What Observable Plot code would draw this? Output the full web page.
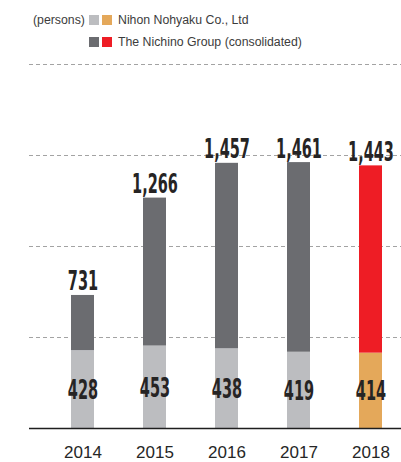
<!DOCTYPE html>
<html><head><meta charset="utf-8">
<script src="https://cdn.jsdelivr.net/npm/d3@7"></script>
<script src="https://cdn.jsdelivr.net/npm/@observablehq/plot@0.6"></script>
<style>
body{margin:0;background:#fff;}
#wrap{position:relative;width:401px;height:462px;overflow:hidden;font-family:"Liberation Sans",Arial,sans-serif;color:#3c3c3c;}
#legend{position:relative;height:56px;font-size:12.3px;line-height:14px;}
#legend .t{position:absolute;white-space:nowrap;}
#legend .sw{position:absolute;width:10px;height:10px;}
#chart svg{display:block;}
</style></head><body>
<div id="wrap"><div id="legend"></div><div id="chart"></div></div>
<script>
const years = ["2014", "2015", "2016", "2017", "2018"];
const nihon = [428, 453, 438, 419, 414];
const group = [731, 1266, 1457, 1461, 1443];
const gridValues = [500, 1000, 1500, 2000];
const unitLabel = "(persons)";
const legendLabels = ["Nihon Nohyaku Co., Ltd", "The Nichino Group (consolidated)"];
const colors = {nihon: "#bcbdc0", group: "#6b6c70", nihonLatest: "#e4a85a", groupLatest: "#ee1d25"};

// legend
const legend = document.getElementById("legend");
function add(cls, left, top, text, bg) {
  const el = document.createElement("div");
  el.className = cls;
  el.style.left = left + "px";
  el.style.top = top + "px";
  if (text) el.textContent = text;
  if (bg) el.style.background = bg;
  legend.appendChild(el);
}
add("t", 33, 12.5, unitLabel);
add("sw", 89, 14.5, null, colors.nihon);
add("sw", 102.3, 14.5, null, colors.nihonLatest);
add("t", 118, 12.5, legendLabels[0]);
add("sw", 89, 36.5, null, colors.group);
add("sw", 102.3, 36.5, null, colors.groupLatest);
add("t", 118, 34.5, legendLabels[1]);

const data = years.map((year, i) => ({year, nihon: nihon[i], group: group[i], latest: i === years.length - 1}));
const fmt = d3.format(",");
const valueFont = {fontFamily: "'DejaVu Sans Condensed', 'DejaVu Sans', sans-serif", fontWeight: "bold", fontSize: 26, fill: "#262424"};

const plot = Plot.plot({
  width: 401, height: 406,
  marginTop: 8, marginBottom: 34, marginLeft: 29, marginRight: 0,
  x: {domain: years, range: [22, 431], padding: 0.68, label: null, tickSize: 0, tickPadding: 17},
  y: {domain: [0, 2000], axis: null},
  color: {type: "identity"},
  style: {fontFamily: "'Liberation Sans', Arial, sans-serif", fontSize: "17px", color: "#262626", background: "#fff", overflow: "visible"},
  marks: [
    Plot.ruleY(gridValues, {stroke: "#a3a3a3", strokeDasharray: "4,3", strokeWidth: 1}),
    Plot.barY(data, {x: "year", y1: 0, y2: "nihon", fill: d => d.latest ? colors.nihonLatest : colors.nihon}),
    Plot.barY(data, {x: "year", y1: "nihon", y2: "group", fill: d => d.latest ? colors.groupLatest : colors.group}),
    Plot.ruleY([0], {stroke: "#1e1e1e", strokeWidth: 1.5}),
    Plot.text(data, {x: "year", y: d => d.nihon / 2, text: d => fmt(d.nihon), lineAnchor: "middle", dy: 1, ...valueFont}),
    Plot.text(data, {x: "year", y: "group", text: d => fmt(d.group), lineAnchor: "bottom", dy: -5, ...valueFont})
  ]
});
d3.select(plot).selectAll('g[aria-label="text"] text').each(function() {
  const t = this.getAttribute("transform");
  if (t) this.setAttribute("transform", t + " scale(0.62,1)");
});
document.getElementById("chart").appendChild(plot);
</script>
</body></html>
